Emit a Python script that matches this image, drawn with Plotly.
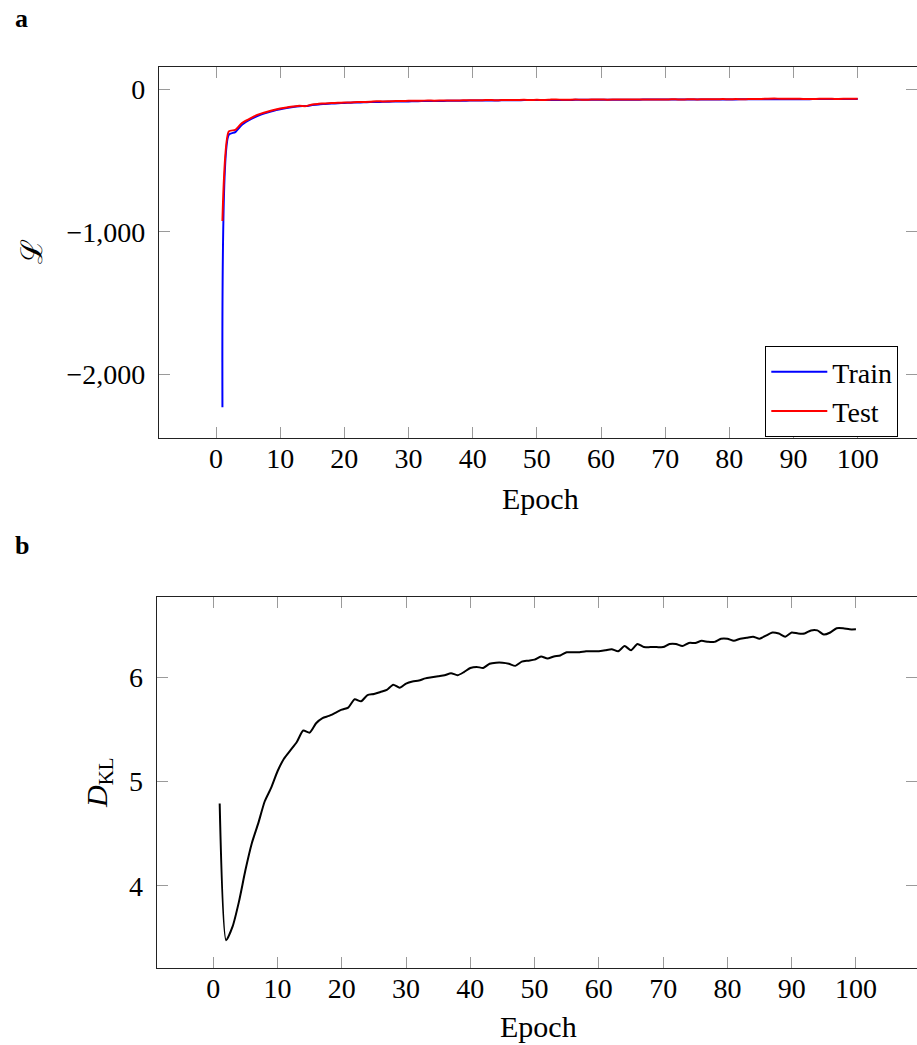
import plotly.graph_objects as go

# ---- data -------------------------------------------------------------
epochs = list(range(1, 101))

loss_train = [
    -2228, -318, -300, -250, -220, -196, -178, -163, -150, -140,
    -131, -124, -119, -117, -111, -106, -103, -100, -98, -96,
    -94, -93, -91, -90, -89, -88, -87, -86, -85, -85,
    -84, -83, -83, -82, -82, -81, -81, -80, -80, -79,
    -79, -78, -78, -78, -77, -77, -77, -76, -76, -76,
    -76, -75, -75, -75, -75, -74, -74, -74, -74, -74,
    -73, -73, -73, -73, -73, -73, -72, -72, -72, -72,
    -72, -72, -72, -71, -71, -71, -71, -71, -71, -71,
    -71, -70, -70, -70, -70, -70, -70, -70, -70, -70,
    -70, -70, -69, -69, -69, -69, -69, -69, -69, -69,
]

loss_test = [
    -923, -295, -285, -238, -212, -188, -171, -157, -145, -135,
    -127, -121, -116, -118, -106, -102, -99, -97, -95, -93,
    -92, -90, -89, -88, -84, -85, -84, -83, -82, -81,
    -80, -80, -79, -80, -79, -78, -79, -78, -77, -77,
    -77, -76, -76, -77, -75, -76, -75, -74, -76, -74,
    -75, -73, -71, -74, -73, -72, -73, -73, -72, -72,
    -73, -72, -71, -72, -72, -71, -72, -71, -71, -72,
    -70, -71, -71, -70, -71, -70, -70, -70, -69, -70,
    -69, -70, -69, -69, -68, -66, -65, -66, -66, -67,
    -67, -68, -68, -67, -67, -67, -68, -67, -66, -67,
]

kl = [
    4.79, 3.48, 3.61, 3.85, 4.15, 4.41, 4.60, 4.81, 4.94, 5.10,
    5.22, 5.30, 5.38, 5.49, 5.47, 5.56, 5.61, 5.63, 5.66, 5.69,
    5.71, 5.79, 5.77, 5.83, 5.84, 5.86, 5.88, 5.93, 5.90, 5.94,
    5.96, 5.97, 5.99, 6.00, 6.01, 6.02, 6.04, 6.02, 6.05, 6.09,
    6.10, 6.09, 6.13, 6.14, 6.14, 6.13, 6.11, 6.15, 6.16, 6.17,
    6.20, 6.18, 6.20, 6.21, 6.24, 6.24, 6.24, 6.25, 6.25, 6.25,
    6.26, 6.27, 6.25, 6.30, 6.26, 6.32, 6.29, 6.29, 6.29, 6.29,
    6.32, 6.32, 6.30, 6.33, 6.33, 6.35, 6.34, 6.34, 6.37, 6.37,
    6.35, 6.37, 6.38, 6.39, 6.37, 6.40, 6.43, 6.42, 6.39, 6.43,
    6.42, 6.42, 6.45, 6.45, 6.41, 6.43, 6.47, 6.47, 6.46, 6.46,
]

x_ticks = [0, 10, 20, 30, 40, 50, 60, 70, 80, 90, 100]
loss_ticks = [-2000, -1000, 0]
loss_tick_text = ["\u22122,000", "\u22121,000", "0"]
kl_ticks = [4, 5, 6]
kl_tick_text = ["4", "5", "6"]

# ---- styling ----------------------------------------------------------
W, H = 917, 1045
FONT = "Liberation Serif, DejaVu Serif, serif"
FS = 28
LABEL_FS = 30
SPINE = "#222222"
TICK = "#9a9a9a"


def px_x(p):
    return p / W


def px_y(p):
    return 1 - p / H


fig = go.Figure()

line_kw = dict(shape="spline", smoothing=0.6, width=2)

fig.add_trace(go.Scatter(x=epochs, y=loss_train, name="Train", mode="lines",
                         line=dict(color="#0000ff", **line_kw),
                         xaxis="x", yaxis="y"))
fig.add_trace(go.Scatter(x=epochs, y=loss_test, name="Test", mode="lines",
                         line=dict(color="#ff0000", **line_kw),
                         xaxis="x", yaxis="y"))
fig.add_trace(go.Scatter(x=epochs, y=kl, name="KL", mode="lines",
                         line=dict(color="#000000", **line_kw),
                         showlegend=False, xaxis="x2", yaxis="y2"))
# empty traces so the right-hand tick axes get drawn
fig.add_trace(go.Scatter(x=[None], y=[None], showlegend=False, hoverinfo="skip",
                         xaxis="x", yaxis="y3"))
fig.add_trace(go.Scatter(x=[None], y=[None], showlegend=False, hoverinfo="skip",
                         xaxis="x2", yaxis="y4"))

xcommon = dict(
    tickvals=x_ticks, ticks="inside", ticklen=11, tickwidth=1, tickcolor=TICK,
    showline=True, linecolor=SPINE, linewidth=1, mirror="ticks",
    showgrid=False, zeroline=False, ticklabelstandoff=-5,
    tickfont=dict(family=FONT, size=FS, color="black"),
)
ycommon = dict(
    ticks="inside", ticklen=11, tickwidth=1, tickcolor=TICK,
    showline=True, linecolor=SPINE, linewidth=1, mirror=False,
    showgrid=False, zeroline=False, ticklabelstandoff=7,
    tickfont=dict(family=FONT, size=FS, color="black"),
)
yright = dict(
    ticks="inside", ticklen=11, tickwidth=1, tickcolor=TICK,
    showline=False, showgrid=False, zeroline=False, showticklabels=False,
    side="right",
)

top_range = [-2444, 154]
bot_range = [3.211, 6.773]

fig.update_layout(
    width=W, height=H,
    margin=dict(l=0, r=0, t=0, b=0),
    paper_bgcolor="white", plot_bgcolor="white",
    font=dict(family=FONT, size=FS, color="black"),
    xaxis=dict(domain=[px_x(158.9), 1], range=[-8.9, 109.24], anchor="y", **xcommon),
    yaxis=dict(domain=[px_y(438), px_y(67.3)], range=top_range, anchor="x",
               tickvals=loss_ticks, ticktext=loss_tick_text, **ycommon),
    yaxis3=dict(overlaying="y", anchor="x", range=top_range,
                tickvals=loss_ticks, **yright),
    xaxis2=dict(domain=[px_x(156.7), 1], range=[-8.8, 109.5], anchor="y2", **xcommon),
    yaxis2=dict(domain=[px_y(968.3), px_y(596.7)], range=bot_range, anchor="x2",
                tickvals=kl_ticks, ticktext=kl_tick_text, **ycommon),
    yaxis4=dict(overlaying="y2", anchor="x2", range=bot_range,
                tickvals=kl_ticks, **yright),
    legend=dict(
        x=px_x(898.3), xanchor="right", y=px_y(346), yanchor="top",
        bordercolor="black", borderwidth=1, bgcolor="white",
        font=dict(family=FONT, size=FS, color="black"),
        tracegroupgap=0, itemwidth=56,
    ),
    showlegend=True,
)

annotations = [
    dict(text="<b>a</b>", x=px_x(13), y=px_y(18), xanchor="left", yanchor="middle",
         size=26),
    dict(text="<b>b</b>", x=px_x(13), y=px_y(545), xanchor="left", yanchor="middle",
         size=26),
    dict(text="Epoch", x=px_x(540), y=px_y(498), xanchor="center", yanchor="middle"),
    dict(text="Epoch", x=px_x(538), y=px_y(1026), xanchor="center", yanchor="middle"),
    dict(text="\u2112", x=px_x(31), y=px_y(252), xanchor="center", yanchor="middle",
         textangle=-90),
    dict(text="<i>D</i><sub>KL</sub>", x=px_x(99), y=px_y(783), xanchor="center",
         yanchor="middle", textangle=-90),
]
for a in annotations:
    size = a.pop("size", LABEL_FS)
    a.update(xref="paper", yref="paper", showarrow=False,
             font=dict(family=FONT, size=size, color="black"))
fig.update_layout(annotations=annotations)

fig.write_html("out.html")
